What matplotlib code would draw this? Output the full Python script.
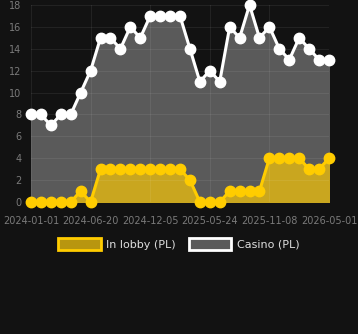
import matplotlib.pyplot as plt
from matplotlib.patches import Patch

casino = [8, 8, 7, 8, 8, 10, 12, 15, 15, 14, 16, 15, 17, 17, 17, 17, 14, 11, 12, 11,
          16, 15, 18, 15, 16, 14, 13, 15, 14, 13, 13]
lobby = [0, 0, 0, 0, 0, 1, 0, 3, 3, 3, 3, 3, 3, 3, 3, 3, 2, 0, 0, 0,
         1, 1, 1, 1, 4, 4, 4, 4, 3, 3, 4]
tick_labels = ["2024-01-01", "2024-06-20", "2024-12-05", "2025-05-24", "2025-11-08", "2026-05-01"]

x = list(range(len(casino)))
bg = "#121212"

fig = plt.figure(figsize=(3.58, 3.34), dpi=100, facecolor=bg)
ax = fig.add_axes([31 / 358, 1 - 202 / 334, 298 / 358, 197 / 334])
ax.set_facecolor(bg)

ax.fill_between(x, casino, color="#5a5a5a", zorder=1)
ax.fill_between(x, lobby, color="#c9a61f", zorder=2)
ax.plot(x, casino, color="white", lw=2.2, marker="o", ms=7.5, clip_on=False, zorder=3)
ax.plot(x, lobby, color="#ffcc00", lw=2.2, marker="o", ms=7.5, clip_on=False, zorder=4)

ax.set_xlim(0, len(casino) - 1)
ax.set_ylim(0, 18)
ax.set_yticks(range(0, 19, 2))
ax.set_xticks(x[::6])
ax.set_xticklabels(tick_labels)
ax.tick_params(colors="#7a7a7a", labelsize=7, length=0)
ax.tick_params(axis="x", pad=10)
ax.tick_params(axis="y", pad=7)
ax.grid(color="white", alpha=0.07, lw=0.8, zorder=2.5)
ax.set_axisbelow(False)
for s in ax.spines.values():
    s.set_visible(False)

handles = [Patch(facecolor="#b8960f", edgecolor="#ffcc00", lw=2),
           Patch(facecolor="#5a5a5a", edgecolor="white", lw=2)]
fig.legend(handles, ["In lobby (PL)", "Casino (PL)"], loc="center",
           bbox_to_anchor=(0.5, 1 - 244 / 334), ncol=2, frameon=False,
           labelcolor="#dddddd", fontsize=8, handlelength=3.8, handleheight=1.2,
           columnspacing=1.2, handletextpad=0.5)

fig.savefig("out.png", dpi=100, facecolor=bg)
